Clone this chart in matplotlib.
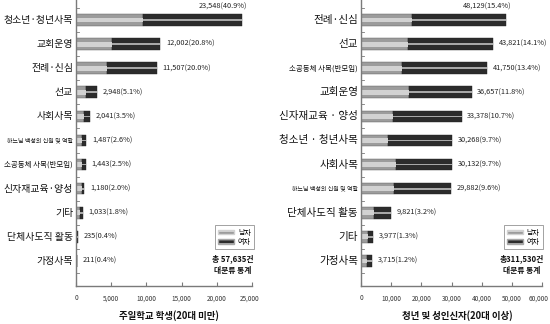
import matplotlib
matplotlib.use("Agg")
import matplotlib.pyplot as plt
import matplotlib.transforms as mtrans
from matplotlib.patches import Patch

plt.rcParams['font.family'] = ['Noto Sans CJK KR', 'DejaVu Sans']
plt.rcParams['hatch.linewidth'] = 1.0

# 주일학교 학생 (20대 미만)
cats_young = ["청소년·청년사목", "교회운영", "전례·신심", "선교", "사회사목",
              "하느님 백성의 신원 및 역할", "소공동체 사목(반모임)", "신자재교육·양성",
              "기타", "단체사도직 활동", "가정사목"]
total_young = [23548, 12002, 11507, 2948, 2041, 1487, 1443, 1180, 1033, 235, 211]
pct_young = [40.9, 20.8, 20.0, 5.1, 3.5, 2.6, 2.5, 2.0, 1.8, 0.4, 0.4]
male_young = [9500, 5050, 4400, 1450, 1150, 850, 800, 800, 550, 110, 100]

# 청년 및 성인신자 (20대 이상)
cats_adult = ["전례·신심", "선교", "소공동체 사목(반모임)", "교회운영", "신자재교육 · 양성",
              "청소년 · 청년사목", "사회사목", "하느님 백성의 신원 및 역할",
              "단체사도직 활동", "기타", "가정사목"]
total_adult = [48129, 43821, 41750, 36657, 33378, 30268, 30132, 29882, 9821, 3977, 3715]
pct_adult = [15.4, 14.1, 13.4, 11.8, 10.7, 9.7, 9.7, 9.6, 3.2, 1.3, 1.2]
male_adult = [17000, 15700, 13500, 16000, 10700, 8900, 11700, 10800, 4200, 2400, 2000]

MALE, MALE_S = "#9c9c9c", "#d2d2d2"
FEM, FEM_S = "#2c2c2c", "#a8a8a8"
AXC = "#7a7a7a"

fig = plt.figure(figsize=(5.5, 3.24), dpi=100)


def draw(ax, cats, total, pct, male, xmax, step, xlabel, tot_text, tot_x, big_fs):
    n = len(cats)
    ys = list(range(n))
    female = [t - m for t, m in zip(total, male)]
    h = 0.48
    ax.barh(ys, male, height=h, color=MALE, edgecolor="#555555", linewidth=0.3)
    ax.barh(ys, female, left=male, height=h, color=FEM, edgecolor="#222222", linewidth=0.3)
    ax.barh(ys, male, height=0.2, color=MALE_S, linewidth=0)
    ax.barh(ys, female, left=male, height=0.07, color=FEM_S, linewidth=0)

    for i in ys:
        lab = f"{total[i]:,}({pct[i]:.1f}%)"
        if i == 0:
            ax.annotate(lab, (total[i], i), xytext=(4, 10), textcoords="offset points",
                        ha="right", va="center", fontsize=5.3, color="#222222")
        else:
            ax.annotate(lab, (total[i], i), xytext=(4, 0), textcoords="offset points",
                        ha="left", va="center", fontsize=5.3, color="#222222")

    ax.set_xlim(0, xmax)
    ax.set_ylim(n + 0.04, -0.83)
    ax.set_xticks(range(0, xmax + 1, step))
    ax.set_xticklabels([f"{v:,}" for v in range(0, xmax + 1, step)], fontsize=4.6, color="#333333")
    ax.tick_params(axis="x", direction="in", length=3, color=AXC, pad=6)
    last = ax.get_xticklabels()[-1]
    last.set_horizontalalignment("right")
    last.set_transform(last.get_transform() + mtrans.ScaledTranslation(5 / 72, 0, fig.dpi_scale_trans))
    ax.set_yticks(ys)
    ax.set_yticklabels([])
    ax.tick_params(axis="y", length=0)
    for i, c in enumerate(cats):
        if c == "하느님 백성의 신원 및 역할":
            fs = 4.3
        elif c.startswith("소공동체"):
            fs = 5.4
        else:
            fs = big_fs
        ax.text(-0.016, i, c, transform=ax.get_yaxis_transform(), ha="right", va="center",
                fontsize=fs, color="#111111")
    # small tick marks between the bars
    for i in range(n + 1):
        ax.plot([0, xmax * 0.018], [i - 0.5, i - 0.5], color=AXC, lw=0.6, clip_on=False)
    for s in ["top", "right"]:
        ax.spines[s].set_visible(False)
    for s in ["left", "bottom"]:
        ax.spines[s].set_color(AXC)
        ax.spines[s].set_linewidth(1.0)
    # axis title sits near the bottom edge of the figure
    ax.text(0.53, -0.105, xlabel, transform=ax.transAxes, ha="center", va="center",
            fontsize=6.8, fontweight="bold", color="#111111")

    handles = [Patch(facecolor=MALE, edgecolor=MALE_S, hatch="----", label="남자"),
               Patch(facecolor=FEM, edgecolor=FEM_S, hatch="----", label="여자")]
    leg = ax.legend(handles=handles, loc="upper left", bbox_to_anchor=(0.77, 0.225),
                    fontsize=5, frameon=True, fancybox=False, handlelength=2.2,
                    handleheight=0.6, borderpad=0.5, labelspacing=0.2, handletextpad=0.6)
    leg.get_frame().set_edgecolor("#777777")
    leg.get_frame().set_linewidth(0.6)
    ax.text(tot_x, 0.095, tot_text, transform=ax.transAxes, ha="center", va="center",
            fontsize=5.6, fontweight="bold", color="#111111")
    ax.text(tot_x, 0.054, "대분류 통계", transform=ax.transAxes, ha="center", va="center",
            fontsize=5.6, fontweight="bold", color="#111111")


ax1 = fig.add_axes([76 / 550, 38 / 324, 176 / 550, 286 / 324])
draw(ax1, cats_young, total_young, pct_young, male_young, 25000, 5000,
     "주일학교 학생(20대 미만)", "총 57,635건", 0.89, 7.1)

ax2 = fig.add_axes([361 / 550, 38 / 324, 181 / 550, 286 / 324])
draw(ax2, cats_adult, total_adult, pct_adult, male_adult, 60000, 10000,
     "청년 및 성인신자(20대 이상)", "총311,530건", 0.89, 7.6)

fig.savefig("out.png", dpi=100)
